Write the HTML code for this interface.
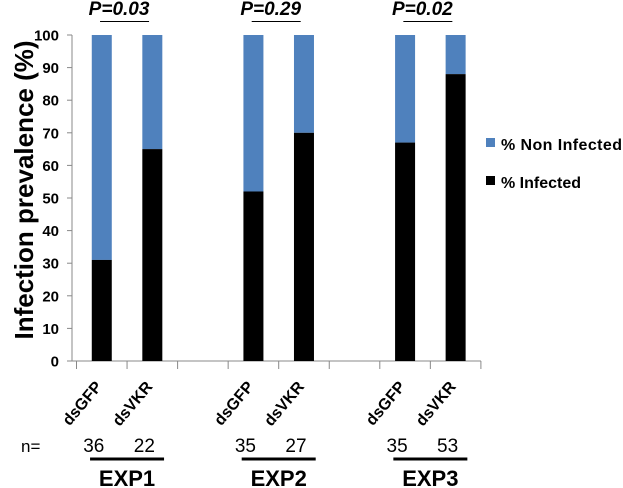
<!DOCTYPE html>
<html><head><meta charset="utf-8"><style>
body{margin:0;background:#fff;}
svg{display:block;font-family:"Liberation Sans",sans-serif;}
</style></head><body>
<svg id="chart" width="623" height="488" viewBox="0 0 623 488">
<g id="plot"></g>
</svg>
<script>
const categories = ["dsGFP","dsVKR","","dsGFP","dsVKR","","dsGFP","dsVKR"];
const infected = [31,65,null,52,70,null,67,88];
const nCounts = ["36","22","","35","27","","35","53"];
const yTicks = [0,10,20,30,40,50,60,70,80,90,100];
const pValues = ["P=0.03","P=0.29","P=0.02"];
const expLabels = ["EXP1","EXP2","EXP3"];

const NS="http://www.w3.org/2000/svg";
const g=document.getElementById('plot');
const x0=76.5, slot=50.55, y0=361, yTop=35;
const y=v=>y0-(y0-yTop)*v/100;
const xc=i=>x0+slot*(i+0.5);
function mk(tag,attrs,text){const e=document.createElementNS(NS,tag);for(const k in attrs)e.setAttribute(k,attrs[k]);if(text!==undefined)e.textContent=text;g.appendChild(e);return e;}

let t=mk('text',{x:0,y:0,transform:'translate(33,190) rotate(-90)','text-anchor':'middle','font-size':26,'font-weight':'bold',fill:'#000'},'Infection prevalence (%)');



let a=mk('line',{x1:72,y1:35,x2:72,y2:y0,stroke:'#888','stroke-width':1});


a=mk('line',{x1:72,y1:y0,x2:481,y2:y0,stroke:'#888','stroke-width':1});



yTicks.forEach(v=>{
  let l=mk('line',{x1:67,y1:y(v),x2:72,y2:y(v),stroke:'#888'});
  
  
  let tx=mk('text',{x:59,y:y(v)+5.5,'text-anchor':'end','font-size':15,'font-weight':'bold'},String(v));
  
  
});
for(let i=0;i<=categories.length;i++){
  let l=mk('line',{x1:x0+slot*i,y1:y0,x2:x0+slot*i,y2:y0+8,stroke:'#888'});
  
  
}
categories.forEach((c,i)=>{
  if(infected[i]===null)return;
  const cx=xc(i), w=20;
  let b1=mk('rect',{x:cx-w/2,y:y(100),width:w,height:y(infected[i])-y(100),fill:'#4f81bd'});
  
  
  let b2=mk('rect',{x:cx-w/2,y:y(infected[i]),width:w,height:y0-y(infected[i]),fill:'#000'});
  
  
  let lb=mk('text',{x:0,y:0,transform:`translate(${cx+1},${y0+26}) rotate(-50)`,'text-anchor':'end','font-size':16,'font-weight':'bold'},c);
  
  
  let nt=mk('text',{x:cx-8,y:452,'text-anchor':'middle','font-size':19},nCounts[i]);
  
  
});
let n=mk('text',{x:21,y:452,'font-size':17},'n=');



expLabels.forEach((e,k)=>{
  const cx=(xc(k*3)+xc(k*3+1))/2;
  let u=mk('line',{x1:cx-37,y1:459,x2:cx+37,y2:459,stroke:'#000','stroke-width':3});
  
  
  let et=mk('text',{x:cx,y:486,'text-anchor':'middle','font-size':22,'font-weight':'bold'},e);
  
  
  let pt=mk('text',{x:cx-8,y:15,'text-anchor':'middle','font-size':19,'font-weight':'bold','font-style':'italic'},pValues[k]);
  
  
  let pl=mk('line',{x1:cx-27,y1:21.5,x2:cx+22,y2:21.5,stroke:'#000','stroke-width':1});
  
  
});

let s1=mk('rect',{x:486,y:138,width:9,height:9,fill:'#4f81bd'});


let l1=mk('text',{x:501,y:150,'font-size':16,'font-weight':'bold',textLength:121},'% Non Infected');


let s2=mk('rect',{x:486,y:176,width:9,height:9,fill:'#000'});


let l2=mk('text',{x:501,y:188,'font-size':16,'font-weight':'bold'},'% Infected');


</script>
</body></html>
